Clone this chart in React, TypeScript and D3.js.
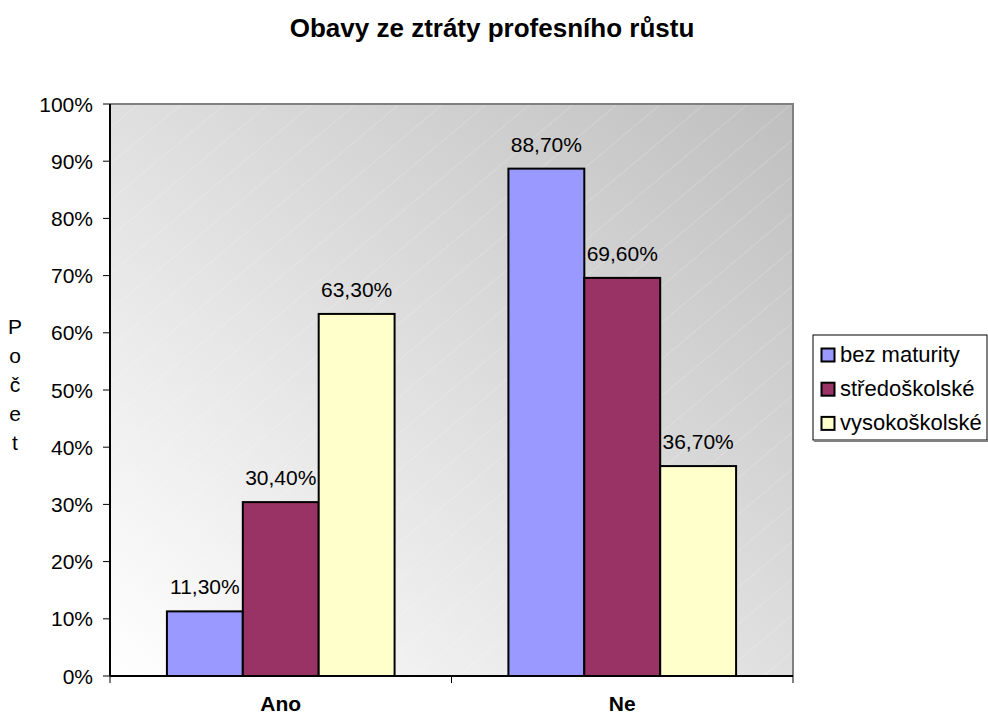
import React from "react";
import * as d3 from "d3";

const categories = ["Ano", "Ne"];
const series = ["bez maturity", "středoškolské", "vysokoškolské"];
const seriesColors = ["#9999FF", "#993366", "#FFFFCC"];
const valuesBezMaturity = [11.3, 88.7];
const valuesStredoskolske = [30.4, 69.6];
const valuesVysokoskolske = [63.3, 36.7];
const yTicks = [0, 10, 20, 30, 40, 50, 60, 70, 80, 90, 100];
const title = "Obavy ze ztráty profesního růstu";
const yLabel = "Počet";

const allValues = [valuesBezMaturity, valuesStredoskolske, valuesVysokoskolske];

export default function App() {
  const W = 988, H = 715;
  const left = 110, right = 793, top = 104, bottom = 676;
  const font = "'Liberation Sans', Arial, sans-serif";
  const fs = 21;

  const y = d3.scaleLinear().domain([0, 100]).range([bottom, top]);
  const x0 = d3.scaleBand().domain(categories).range([left, right]).paddingInner(0).paddingOuter(0);
  const groupW = x0.bandwidth() * (3 / 4.5);
  const x1 = d3.scaleBand().domain(series).range([0, groupW]);

  const fmt = (v: number) => v.toFixed(2).replace(".", ",") + "%";

  return (
    <svg width={W} height={H} style={{ position: "absolute", left: 0, top: 0, background: "#fff" }}>
      <defs>
        <linearGradient id="bg" x1="0" y1="1" x2="1" y2="0">
          <stop offset="0%" stopColor="#ffffff" />
          <stop offset="100%" stopColor="#bfbfbf" />
        </linearGradient>
        <pattern id="hatch" width="28" height="28" patternUnits="userSpaceOnUse" patternTransform="rotate(-40)">
          <line x1="0" y1="0" x2="28" y2="0" stroke="#ffffff" strokeOpacity="0.35" strokeWidth="1" />
        </pattern>
      </defs>
      <text x={492} y={37} textAnchor="middle" fontFamily={font} fontWeight="bold" fontSize={26}>{title}</text>

      <rect x={left} y={top} width={right - left} height={bottom - top} fill="url(#bg)" />
      <rect x={left} y={top} width={right - left} height={bottom - top} fill="url(#hatch)" />
      <path d={`M${left},${top}H${right}V${bottom}`} fill="none" stroke="#808080" strokeWidth={2} />

      {yTicks.map((t) => (
        <g key={t}>
          <line x1={left - 7} x2={left} y1={y(t)} y2={y(t)} stroke="#000" strokeWidth={1} />
          <text x={93} y={y(t) + 7.5} textAnchor="end" fontFamily={font} fontSize={fs}>{t}%</text>
        </g>
      ))}

      {categories.map((c, ci) => {
        const gx = x0(c)! + (x0.bandwidth() - groupW) / 2;
        return (
          <g key={c}>
            {series.map((s, si) => {
              const v = allValues[si][ci];
              const bx = gx + x1(s)!;
              return (
                <g key={s}>
                  <rect x={bx} y={y(v)} width={x1.bandwidth()} height={bottom - y(v)} fill={seriesColors[si]} stroke="#000" strokeWidth={2} />
                  <text x={bx + x1.bandwidth() / 2} y={y(v) - 17} textAnchor="middle" fontFamily={font} fontSize={fs}>{fmt(v)}</text>
                </g>
              );
            })}
            <text x={x0(c)! + x0.bandwidth() / 2} y={711} textAnchor="middle" fontFamily={font} fontWeight="bold" fontSize={fs}>{c}</text>
          </g>
        );
      })}

      <line x1={left} x2={left} y1={top} y2={bottom} stroke="#000" strokeWidth={2} />
      <line x1={left} x2={right} y1={bottom} y2={bottom} stroke="#000" strokeWidth={2} />
      {[...categories.map((c) => x0(c)!), right].map((tx, i) => (
        <line key={i} x1={tx} x2={tx} y1={bottom} y2={bottom + 7} stroke="#000" strokeWidth={1} />
      ))}

      {yLabel.split("").map((ch, i) => (
        <text key={i} x={15} y={334 + i * 29} textAnchor="middle" fontFamily={font} fontSize={fs}>{ch}</text>
      ))}

      <rect x={813} y={335} width={174} height={105} fill="#fff" stroke="#000" strokeWidth={1} />
      <path d="M814,441H988" stroke="#808080" strokeWidth={2} />
      {series.map((s, i) => (
        <g key={s}>
          <rect x={821.5} y={348.5 + i * 34.2} width={13} height={13} fill={seriesColors[i]} stroke="#000" strokeWidth={2} />
          <text x={840} y={362 + i * 34.2} fontFamily={font} fontSize={22}>{s}</text>
        </g>
      ))}
    </svg>
  );
}
